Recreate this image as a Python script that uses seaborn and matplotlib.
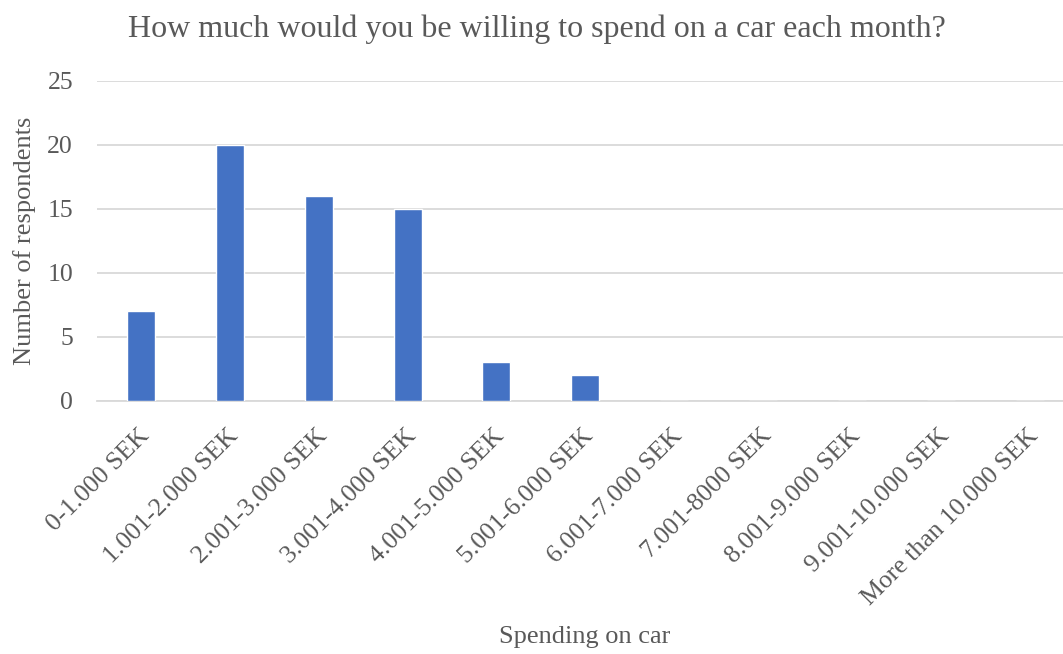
import matplotlib
matplotlib.use("Agg")
import matplotlib.pyplot as plt
import matplotlib.transforms as mtransforms
import seaborn as sns
import pandas as pd

categories = [
    "0-1.000 SEK", "1.001-2.000 SEK", "2.001-3.000 SEK", "3.001-4.000 SEK",
    "4.001-5.000 SEK", "5.001-6.000 SEK", "6.001-7.000 SEK", "7.001-8000 SEK",
    "8.001-9.000 SEK", "9.001-10.000 SEK", "More than 10.000 SEK",
]
respondents = [7, 20, 16, 15, 3, 2, 0, 0, 0, 0, 0]
y_ticks = [0, 5, 10, 15, 20, 25]

sns.set_theme(style="white")
plt.rcParams["font.family"] = ["Liberation Serif", "DejaVu Serif"]

text_color = "#595959"
grid_color = "#D9D9D9"
bar_color = "#4472C4"

df = pd.DataFrame({"category": categories, "respondents": respondents})

fig = plt.figure(figsize=(10.63, 6.54), dpi=100)
ax = fig.add_axes([0.0909, 0.387, 0.9091, 0.4896])

sns.barplot(data=df, x="category", y="respondents", color=bar_color,
            width=0.315, saturation=1, ax=ax, zorder=3)

ax.set_ylim(0, 25)
# the plot area runs slightly past the right edge of the canvas
ax.set_xlim(-0.5, 10.376)
ax.set_yticks(y_ticks)
ax.yaxis.grid(True, color=grid_color, linewidth=1.3, zorder=0)
ax.set_axisbelow(True)
for side in ["top", "right", "left"]:
    ax.spines[side].set_visible(False)
ax.spines["bottom"].set_color(grid_color)
ax.spines["bottom"].set_linewidth(1.3)
ax.tick_params(axis="both", length=0, colors=text_color, labelsize=18.5)
ax.tick_params(axis="y", pad=17)
ax.tick_params(axis="x", pad=17)

ax.set_xticks(range(len(categories)))
ax.set_xticklabels(categories, rotation=45, ha="right", rotation_mode="anchor")
shift = mtransforms.ScaledTranslation(-3 / 100, 0, fig.dpi_scale_trans)
for lbl in ax.get_xticklabels():
    lbl.set_transform(lbl.get_transform() + shift)

ax.set_xlabel("Spending on car", fontsize=19, color=text_color, labelpad=10)
ax.xaxis.set_label_coords(0.506, -0.0)
ax.xaxis.label.set_va("center")
ax.xaxis.label.set_transform(fig.transFigure)
ax.xaxis.label.set_position((0.55, 0.026))
ax.set_ylabel("Number of respondents", fontsize=19, color=text_color, labelpad=8)
fig.text(0.505, 0.955, "How much would you be willing to spend on a car each month?",
         ha="center", va="center", fontsize=23, color=text_color)

fig.savefig("out.png", dpi=100, facecolor="white")
